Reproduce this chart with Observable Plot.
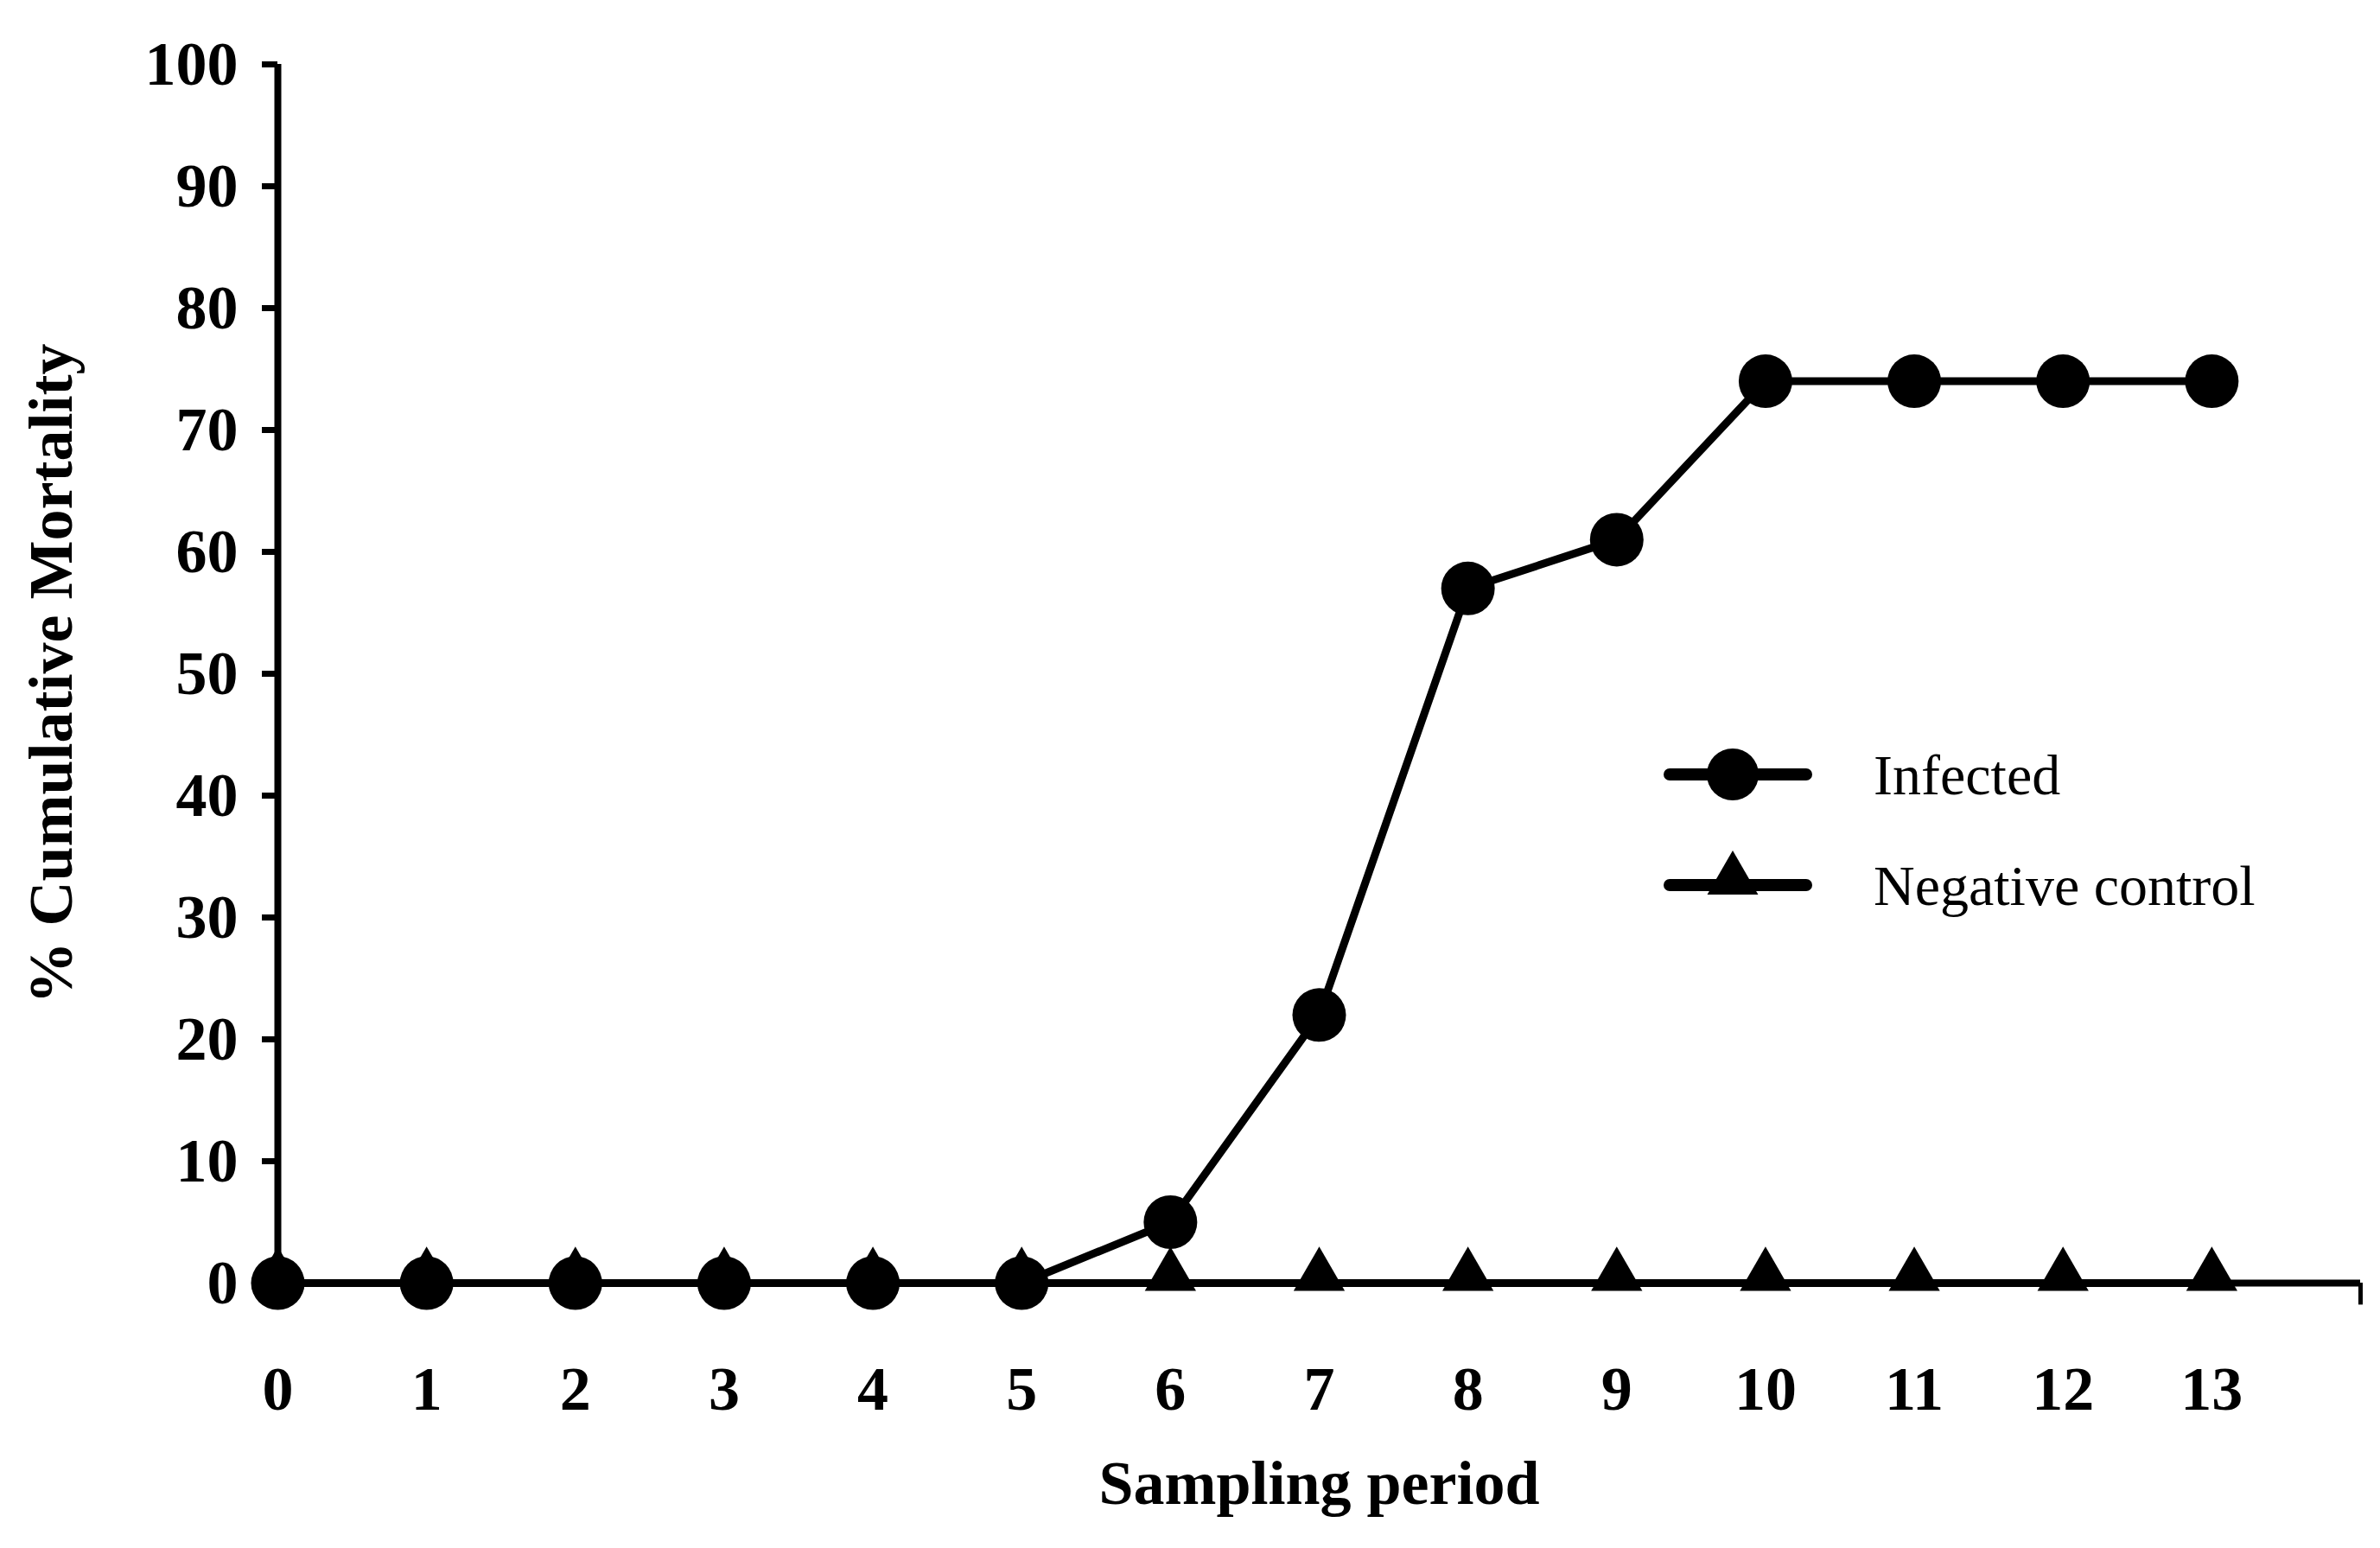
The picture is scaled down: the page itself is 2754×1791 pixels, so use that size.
<!DOCTYPE html>
<html><head><meta charset="utf-8">
<script src="https://cdn.jsdelivr.net/npm/d3@7"></script>
<script src="https://cdn.jsdelivr.net/npm/@observablehq/plot@0.6"></script>
<style>body{margin:0;background:#fff}#wrap{position:relative;width:2754px;height:1791px}</style>
</head><body><div id="wrap"></div>
<script>
const periods = [0,1,2,3,4,5,6,7,8,9,10,11,12,13];
const infected = [0,0,0,0,0,0,5,22,57,61,74,74,74,74];
const control = [0,0,0,0,0,0,0,0,0,0,0,0,0,0];
const yTicks = [0,10,20,30,40,50,60,70,80,90,100];
const seriesNames = ["Infected","Negative control"];

const inf = periods.map((p,i)=>({x:p,y:infected[i]}));
const ctl = periods.map((p,i)=>({x:p,y:control[i]}));
const font = "'Liberation Serif','Times New Roman',serif";

const chart = Plot.plot({
  width:2754, height:1791,
  marginLeft:321, marginTop:74, marginBottom:307, marginRight:23,
  style:{fontFamily:font, fontWeight:"bold", fontSize:"72px", color:"#000", background:"#fff"},
  x:{domain:[0,14]},
  y:{domain:[0,100]},
  marks:[
    Plot.axisY({ticks:yTicks, tickSize:18, tickPadding:28, strokeWidth:7, label:"% Cumulative Mortality", labelAnchor:"center", labelOffset:290, labelArrow:"none"}),
    Plot.axisX({ticks:periods, tickSize:0, tickPadding:95, label:"Sampling period", labelAnchor:"center", labelOffset:255, labelArrow:"none"}),
    Plot.ruleX([0],{strokeWidth:8}),
    Plot.ruleY([0],{strokeWidth:8}),
    Plot.ruleX([14],{y1:0, y2:-1.8, strokeWidth:5}),
    Plot.line(ctl,{x:"x",y:"y",strokeWidth:9}),
    Plot.dot(ctl,{x:"x",y:"y",symbol:"triangle",r:22,fill:"#000",dy:-8}),
    Plot.line(inf,{x:"x",y:"y",strokeWidth:9}),
    Plot.dot(inf,{x:"x",y:"y",r:31,fill:"#000"})
  ]
});
chart.style.position="absolute";chart.style.left="0";chart.style.top="0";
const wrap=document.getElementById("wrap");
wrap.appendChild(chart);

const lg = d3.select(wrap).append("svg").attr("width",2754).attr("height",1791)
  .style("position","absolute").style("left","0").style("top","0");
const rows = [{y:896,sym:"circle"},{y:1024,sym:"triangle"}];
rows.forEach((r,i)=>{
  lg.append("line").attr("x1",1932).attr("x2",2090).attr("y1",r.y).attr("y2",r.y)
    .attr("stroke","#000").attr("stroke-width",14).attr("stroke-linecap","round");
  if(r.sym==="circle") lg.append("circle").attr("cx",2005).attr("cy",r.y).attr("r",30).attr("fill","#000");
  else lg.append("path").attr("d",d3.symbol(d3.symbolTriangle,1500)()).attr("transform",`translate(2005,${r.y-6})`).attr("fill","#000");
  lg.append("text").attr("x",2168).attr("y",r.y).attr("dy","0.35em").attr("font-family",font)
    .attr("font-size",66).text(seriesNames[i]);
});
</script></body></html>
